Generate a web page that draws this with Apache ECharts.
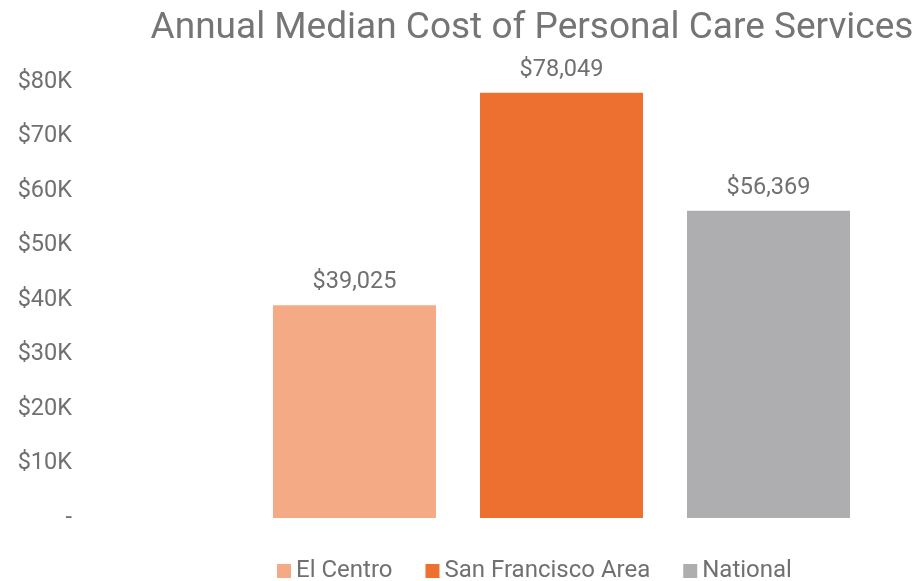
<!DOCTYPE html>
<html>
<head>
<meta charset="utf-8">
<script src="https://cdn.jsdelivr.net/npm/echarts@6/dist/echarts.min.js"></script>
<style>
html, body { margin: 0; padding: 0; background: #fff; }
#main { width: 917px; height: 581px; }
</style>
</head>
<body>
<div id="main"></div>
<script>
var seriesNames = ['El Centro', 'San Francisco Area', 'National'];
var seriesValues = [39025, 78049, 56369];
var seriesColors = ['#F4AB85', '#ED7030', '#AEADB0'];
var yTicks = [0, 10000, 20000, 30000, 40000, 50000, 60000, 70000, 80000];

function money(v) {
	return '$' + String(v).replace(/\B(?=(\d{3})+(?!\d))/g, ',');
}

var myChart = echarts.init(document.getElementById('main'));
var series = seriesNames.map(function(name, i) {
	return {
		name: name,
		type: 'bar',
		data: [seriesValues[i]],
		barWidth: 163,
		barGap: '27%',
		itemStyle: { color: seriesColors[i] },
		label: {
			show: true,
			position: 'top',
			distance: 11,
			color: '#707070',
			fontSize: 23.5,
			fontFamily: 'Roboto',
			formatter: function(p) { return money(p.value); }
		}
	};
});

var option = {
	animation: false,
	title: {
		text: 'Annual Median Cost of Personal Care Services',
		left: 527,
		textAlign: 'center',
		top: 5,
		textStyle: { color: '#757575', fontSize: 37, fontWeight: 'normal', fontFamily: 'Roboto' }
	},
	legend: {
		data: seriesNames,
		bottom: -7,
		left: 272,
		itemWidth: 14,
		itemHeight: 14,
		itemGap: 33,
		icon: 'rect',
		textStyle: { color: '#707070', fontSize: 24, fontFamily: 'Roboto' }
	},
	grid: { left: 252, right: 46, top: 82, bottom: 63 },
	xAxis: {
		type: 'category',
		data: [''],
		axisLine: { show: false },
		axisTick: { show: false },
		axisLabel: { show: false }
	},
	yAxis: {
		type: 'value',
		min: 0,
		max: yTicks[yTicks.length - 1],
		interval: 10000,
		splitLine: { show: false },
		axisLine: { show: false },
		axisTick: { show: false },
		axisLabel: {
			margin: 180,
			color: '#707070',
			fontSize: 23.5,
			fontFamily: 'Roboto',
			formatter: function(v) { return v === 0 ? '-' : '$' + (v / 1000) + 'K'; }
		}
	},
	series: series
};
myChart.setOption(option);
</script>
</body>
</html>
